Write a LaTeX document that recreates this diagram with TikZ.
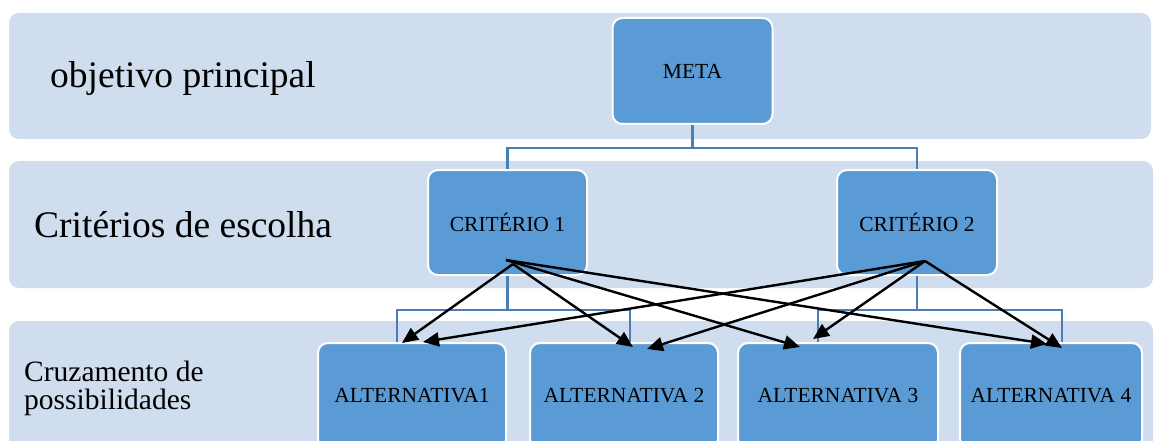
\documentclass[tikz,border=0pt]{standalone}
\usepackage{fontspec}
\setmainfont{Liberation Serif}
\usetikzlibrary{arrows.meta,calc}
\definecolor{bandc}{HTML}{CFDDEE}
\definecolor{boxc}{HTML}{5B9BD5}
\definecolor{linec}{HTML}{4A7EB5}
\begin{document}
\begin{tikzpicture}[x=1pt,y=-1pt,
  band/.style={fill=bandc, rounded corners=10pt},
  boxn/.style={draw=white, line width=2pt, fill=boxc, rounded corners=10pt, inner sep=0pt, font=\fontsize{21.5}{24}\selectfont, align=center},
  conn/.style={draw=linec, line width=2.4pt},
  arr/.style={draw=black, line width=2.4pt, -{Triangle[length=16pt,width=14pt]}},
  lbl/.style={anchor=base west, inner sep=0pt, font=\fontsize{37.5}{40}\selectfont}]
\useasboundingbox (0,0) rectangle (1154,441);
\clip (0,0) rectangle (1154,441);
\fill[white] (0,0) rectangle (1154,441);
% bands
\path[band] (9,13) rectangle (1151,139);
\path[band] (9,161) rectangle (1153,288);
\path[band] (9,321) rectangle (1153,470);
% level labels
\node[lbl] (l1) at (50,88) {objetivo principal};
\node[lbl] (l2) at (34,237) {Critérios de escolha};
\node[anchor=north west, inner sep=0pt, align=left, font=\fontsize{29.5}{27.5}\selectfont] (l3) at (24,361) {Cruzamento de\\possibilidades};
% boxes
\node[boxn, minimum width=160pt, minimum height=106pt] (meta) at (692.5,71) {META};
\node[boxn, minimum width=159pt, minimum height=105pt] (c1) at (507.5,222.5) {CRITÉRIO 1};
\node[boxn, minimum width=160pt, minimum height=105pt] (c2) at (917,222.5) {CRITÉRIO 2};
\node[boxn, minimum width=188pt, minimum height=106pt] (a1) at (412,396) {ALTERNATIVA1};
\node[boxn, minimum width=188pt, minimum height=106pt] (a2) at (624,396) {ALTERNATIVA 2};
\node[boxn, minimum width=200pt, minimum height=106pt] (a3) at (838,396) {ALTERNATIVA 3};
\node[boxn, minimum width=182pt, minimum height=106pt] (a4) at (1051,396) {ALTERNATIVA 4};
% hierarchy connectors
\draw[conn] (meta.south) -- ++(0,23) -| (c1.north);
\draw[conn] (meta.south) -- ++(0,23) -| (c2.north);
\draw[conn] (c1.south) -- ++(0,34) -| ($(a1.north)+(-15,0)$);
\draw[conn] (c1.south) -- ++(0,34) -| ($(a2.north)+(6,0)$);
\draw[conn] (c2.south) -- ++(0,34) -| ($(a3.north)+(-20,0)$);
\draw[conn] (c2.south) -- ++(0,34) -| ($(a4.north)+(11,0)$);
% arrow origins
\coordinate (o1a) at ($(c1.center)+(5.5,41.5)$);
\coordinate (o1b) at ($(c1.center)+(-1.5,37.5)$);
\coordinate (o2) at ($(c2.center)+(8,38.5)$);
% arrows
\draw[arr] (o1a) -- ($(a1.north)+(-10,1)$);
\draw[arr] (o1a) -- ($(a2.north)+(9,5)$);
\draw[arr] (o1b) -- ($(a3.north)+(-38,5)$);
\draw[arr] (o1b) -- ($(a4.north)+(-4,2)$);
\draw[arr] (o2) -- ($(a1.north)+(11,0)$);
\draw[arr] (o2) -- ($(a2.north)+(23,7)$);
\draw[arr] (o2) -- ($(a3.north)+(-25,-3)$);
\draw[arr] (o2) -- ($(a4.north)+(11,6)$);
\end{tikzpicture}
\end{document}
